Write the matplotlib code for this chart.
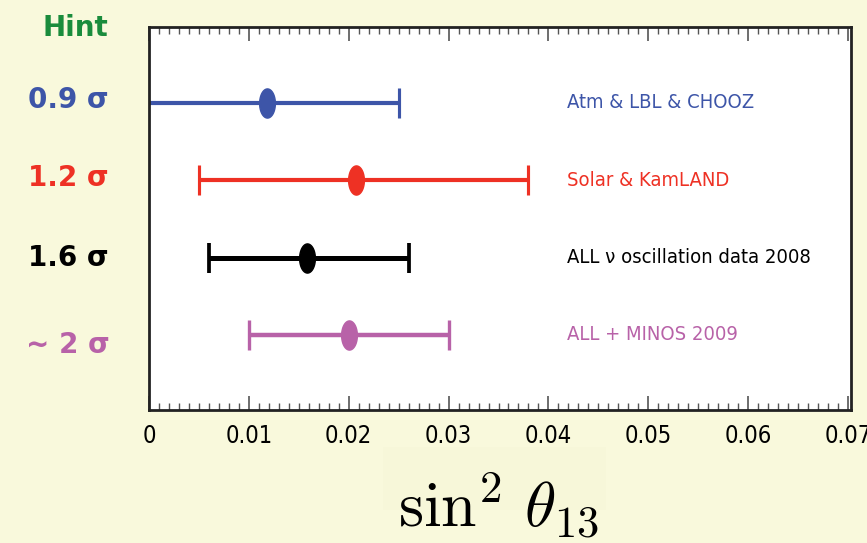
import numpy as np
import matplotlib
matplotlib.use("Agg")
import matplotlib.pyplot as plt
from matplotlib.path import Path
from matplotlib.patches import Rectangle
from matplotlib.ticker import MultipleLocator
from matplotlib import font_manager
from matplotlib.font_manager import FontProperties

plt.rcParams["mathtext.fontset"] = "cm"

# --- data -------------------------------------------------------------
datasets = ["Atm & LBL & CHOOZ", "Solar & KamLAND",
            "ALL ν oscillation data 2008", "ALL + MINOS 2009"]
hints = ["0.9 σ", "1.2 σ", "1.6 σ", "~ 2 σ"]
best_fit = [0.0118, 0.0207, 0.0158, 0.0200]
lower = [-0.001, 0.0050, 0.0060, 0.0100]
upper = [0.0250, 0.0380, 0.0260, 0.0300]
colors = ["#3d55a8", "#ee3124", "#000000", "#b862a8"]
line_w = [3.0, 3.0, 3.6, 3.2]
xticks = [0, 0.01, 0.02, 0.03, 0.04, 0.05, 0.06, 0.07]
xtick_labels = ["0", "0.01", "0.02", "0.03", "0.04", "0.05", "0.06", "0.07"]

# prefer a condensed sans face for the axis annotations
cond = [f for f in font_manager.fontManager.ttflist
        if f.stretch in ("condensed", "semi-condensed", "extra-condensed",
                         "ultra-condensed")
        and f.style == "normal" and f.weight in (400, "normal", "regular")]
cond.sort(key=lambda f: (0 if "Liberation" in f.name else
                         1 if "DejaVu Sans" == f.name else 2))
if cond:
    nfont = FontProperties(fname=cond[0].fname)
else:
    nfont = FontProperties(family="Liberation Sans")

BG = "#f9f9dc"
fig = plt.figure(figsize=(8.67, 5.43), dpi=100, facecolor=BG)

# faint panel behind the axis title
fig.patches.append(Rectangle((383 / 867, 1 - 510 / 543), 223 / 867, 63 / 543,
                             transform=fig.transFigure, facecolor="#f7f7d9",
                             edgecolor="none", zorder=0))

ax = fig.add_axes([0.1719, 0.2449, 0.8096, 0.7054])
ax.set_facecolor("white")

# tall elliptical marker
t = np.linspace(0, 2 * np.pi, 60)
ellipse = Path(np.column_stack([0.27 * np.cos(t), 0.5 * np.sin(t)]), closed=True)

ypos = np.arange(len(datasets))[::-1]
for i, y in enumerate(ypos):
    xerr = [[best_fit[i] - lower[i]], [upper[i] - best_fit[i]]]
    ax.errorbar([best_fit[i]], [y], xerr=xerr, fmt="none", ecolor=colors[i],
                elinewidth=line_w[i], capsize=11, capthick=line_w[i] * 0.75)
    ax.plot([best_fit[i]], [y], marker=ellipse, markersize=21,
            color=colors[i], linestyle="none", zorder=5)
    fp = nfont.copy()
    fp.set_size(14.5)
    ax.text(0.0419, y, datasets[i], color=colors[i], fontproperties=fp,
            va="center", ha="left")

ax.set_xlim(0, 0.0703)
ax.set_ylim(-0.97, 3.98)
ax.set_yticks([])
ax.set_xticks(xticks)
tfp = nfont.copy()
tfp.set_size(17)
ax.set_xticklabels(xtick_labels, fontproperties=tfp)
ax.xaxis.set_minor_locator(MultipleLocator(0.001))
ax.tick_params(axis="x", which="major", direction="in", length=10, width=1.2,
               color="#555555", top=True, bottom=True, pad=10)
ax.tick_params(axis="x", which="minor", direction="in", length=5, width=1.0,
               color="#555555", top=True, bottom=True)
for s in ax.spines.values():
    s.set_linewidth(2.0)
    s.set_color("#222222")

# significance column at the left
hint_y = [100, 178, 258, 345]
fig.text(75 / 867, 1 - 28 / 543, "Hint", color="#1a8c3c", fontsize=20,
         fontweight="bold", ha="center", va="center")
for i, py in enumerate(hint_y):
    fig.text(68 / 867, 1 - py / 543, hints[i], color=colors[i], fontsize=20,
             fontweight="bold", ha="center", va="center")

# axis title
fig.text(499 / 867, 1 - 505 / 543, r"$\sin^2\,\theta_{13}$", fontsize=46,
         ha="center", va="center", color="black")

fig.savefig("out.png", dpi=100, facecolor=BG)
